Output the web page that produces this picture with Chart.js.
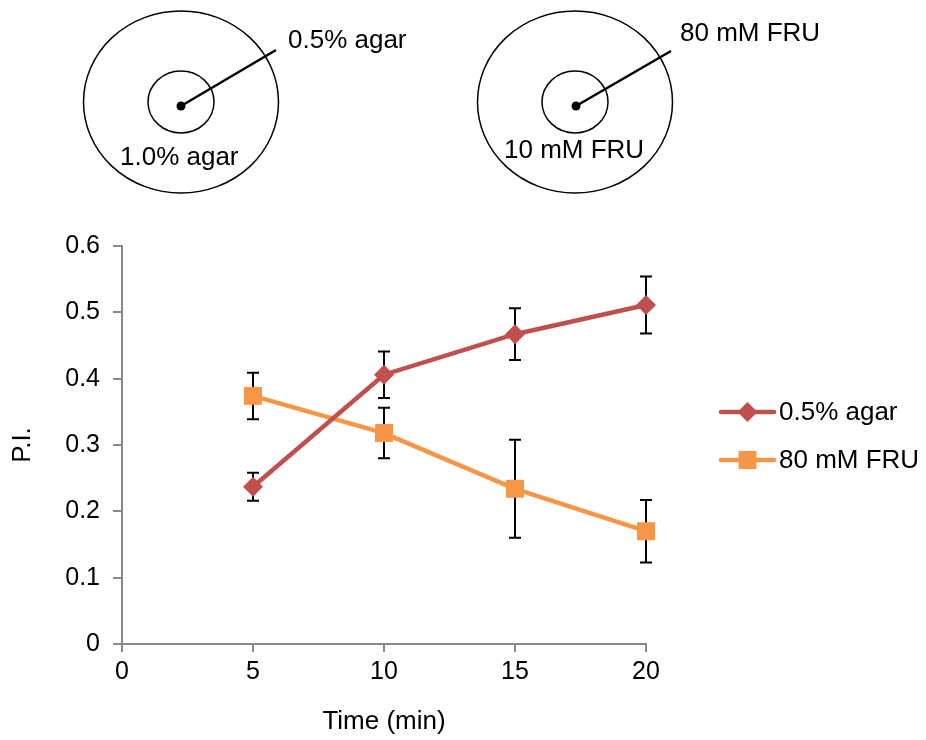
<!DOCTYPE html>
<html>
<head>
<meta charset="utf-8">
<script src="https://cdn.jsdelivr.net/npm/chart.js@4.4.1/dist/chart.umd.min.js"></script>
<style>
  html, body { margin: 0; padding: 0; background: #fff; }
</style>
</head>
<body>
<canvas id="piChart" width="926" height="740"></canvas>
<script>
// data
const times = [5, 10, 15, 20];
const seriesNames = ["0.5% agar", "80 mM FRU"];
const agarPI = [0.237, 0.406, 0.467, 0.511];
const agarErr = [0.021, 0.035, 0.039, 0.043];
const fruPI = [0.374, 0.318, 0.234, 0.170];
const fruErr = [0.035, 0.038, 0.074, 0.047];
const xTicks = [0, 5, 10, 15, 20];
const yTicks = [0, 0.1, 0.2, 0.3, 0.4, 0.5, 0.6];
const diagramLabels = [["0.5% agar", "1.0% agar"], ["80 mM FRU", "10 mM FRU"]];

const red = "#C0504D";
const orange = "#F79646";
const axisGray = "#898989";
const FONT = '"Liberation Sans", Arial, sans-serif';

Chart.defaults.font.family = FONT;
Chart.defaults.color = "#000";

const errors = [agarErr, fruErr];

const errorBars = {
    id: "errorBars",
    beforeDatasetsDraw(chart) {
        const ctx = chart.ctx;
        const xs = chart.scales.x, ys = chart.scales.y;
        ctx.save();
        ctx.strokeStyle = "#000";
        ctx.lineWidth = 2;
        chart.data.datasets.forEach((ds, i) => {
            ds.data.forEach((p, j) => {
                const x = xs.getPixelForValue(p.x);
                const top = ys.getPixelForValue(p.y + errors[i][j]);
                const bot = ys.getPixelForValue(p.y - errors[i][j]);
                ctx.beginPath();
                ctx.moveTo(x, top); ctx.lineTo(x, bot);
                ctx.moveTo(x - 6, top); ctx.lineTo(x + 6, top);
                ctx.moveTo(x - 6, bot); ctx.lineTo(x + 6, bot);
                ctx.stroke();
            });
        });
        ctx.restore();
    }
};

function drawMarker(ctx, style, x, y, color) {
    ctx.fillStyle = color;
    ctx.beginPath();
    if (style === "rectRot") {
        ctx.moveTo(x, y - 10); ctx.lineTo(x + 10, y); ctx.lineTo(x, y + 10); ctx.lineTo(x - 10, y);
    } else {
        ctx.rect(x - 9, y - 9, 18, 18);
    }
    ctx.closePath();
    ctx.fill();
}

const sideLegend = {
    id: "sideLegend",
    afterDraw(chart) {
        const ctx = chart.ctx;
        ctx.save();
        ctx.font = "26px " + FONT;
        ctx.textBaseline = "middle";
        chart.data.datasets.forEach((ds, i) => {
            const y = 412 + i * 48;
            ctx.strokeStyle = ds.borderColor;
            ctx.lineWidth = 4.5;
            ctx.lineCap = "round";
            ctx.beginPath();
            ctx.moveTo(721, y); ctx.lineTo(774, y);
            ctx.stroke();
            drawMarker(ctx, ds.pointStyle, 747.5, y, ds.borderColor);
            ctx.fillStyle = "#000";
            ctx.fillText(ds.label, 779, y + 1);
        });
        ctx.restore();
    }
};

// the two plate diagrams above the plot
const plates = {
    id: "plates",
    afterDraw(chart) {
        const ctx = chart.ctx;
        const spots = [
            { cx: 181, cy: 102, dotX: 181, dotY: 106, endX: 276, endY: 50, outerX: 288, outerY: 41, innerX: 120, innerY: 158 },
            { cx: 575, cy: 102, dotX: 576, dotY: 106, endX: 671, endY: 51, outerX: 680, outerY: 34, innerX: 504, innerY: 151 }
        ];
        ctx.save();
        spots.forEach((s, i) => {
            ctx.strokeStyle = "#000";
            ctx.lineWidth = 1.5;
            ctx.beginPath();
            ctx.ellipse(s.cx, s.cy, 97.5, 91, 0, 0, Math.PI * 2);
            ctx.stroke();
            ctx.beginPath();
            ctx.ellipse(s.cx, s.cy, 33, 31, 0, 0, Math.PI * 2);
            ctx.stroke();
            ctx.lineWidth = 2.5;
            ctx.beginPath();
            ctx.moveTo(s.dotX, s.dotY); ctx.lineTo(s.endX, s.endY);
            ctx.stroke();
            ctx.fillStyle = "#000";
            ctx.beginPath();
            ctx.arc(s.dotX, s.dotY, 4.5, 0, Math.PI * 2);
            ctx.fill();
            ctx.font = "26px " + FONT;
            ctx.textBaseline = "middle";
            ctx.fillText(diagramLabels[i][0], s.outerX, s.outerY);
            ctx.fillText(diagramLabels[i][1], s.innerX, s.innerY);
        });
        ctx.restore();
    }
};

const ctx = document.getElementById("piChart").getContext("2d");
const chart = new Chart(ctx, {
    type: "line",
    data: {
        datasets: [{
            label: seriesNames[0],
            data: times.map((t, i) => ({ x: t, y: agarPI[i] })),
            borderColor: red,
            backgroundColor: red,
            borderWidth: 4.5,
            pointStyle: "rectRot",
            pointRadius: 10,
            pointBorderWidth: 0,
            clip: false
        }, {
            label: seriesNames[1],
            data: times.map((t, i) => ({ x: t, y: fruPI[i] })),
            borderColor: orange,
            backgroundColor: orange,
            borderWidth: 4.5,
            pointStyle: "rect",
            pointRadius: 12.7,
            pointBorderWidth: 0,
            clip: false
        }]
    },
    options: {
        responsive: false,
        animation: false,
        layout: { padding: { left: 0, top: 246, right: 280, bottom: 0 } },
        plugins: { legend: { display: false }, tooltip: { enabled: false } },
        scales: {
            x: {
                type: "linear",
                min: 0, max: 20,
                afterBuildTicks: s => { s.ticks = xTicks.map(v => ({ value: v })); },
                afterFit: s => { s.height = 96; },
                grid: { drawOnChartArea: false, color: axisGray, tickLength: 8, lineWidth: 2 },
                border: { color: axisGray, width: 2 },
                ticks: { font: { size: 25 }, padding: 5, color: "#000" },
                title: { display: true, text: "Time (min)", font: { size: 26 }, padding: { top: 0, bottom: 3 } }
            },
            y: {
                min: 0, max: 0.6,
                afterBuildTicks: s => { s.ticks = yTicks.map(v => ({ value: v })); },
                afterFit: s => { s.width = 122; },
                grid: { drawOnChartArea: false, color: axisGray, tickLength: 9, lineWidth: 2 },
                border: { color: axisGray, width: 2 },
                ticks: { font: { size: 25 }, padding: 13, color: "#000", callback: v => String(+v.toFixed(1)) },
                title: { display: true, text: "P.I.", font: { size: 26 }, padding: { top: 7, bottom: 0 } }
            }
        }
    },
    plugins: [errorBars, sideLegend, plates]
});
</script>
</body>
</html>
